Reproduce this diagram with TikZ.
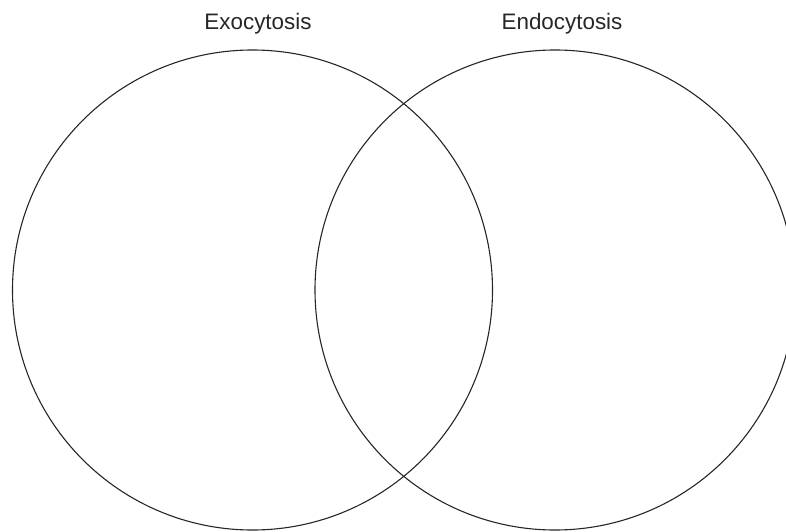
\documentclass[tikz,border=0pt]{standalone}
\usepackage{fontspec}
\setmainfont{Liberation Sans}

\tikzset{
  ring/.style={draw=black!85, line width=1.1pt},
  title/.style={anchor=base, inner sep=0.75pt, text=black!85, font=\fontsize{22.4}{27}\selectfont}
}

\begin{document}
\begin{tikzpicture}[x=1pt,y=1pt,yscale=-1]

\clip (0,0) rectangle (786,532);
\useasboundingbox (0,0) rectangle (786,532);

%Circle [id:exo]
\draw [ring] (252.5,290) circle (240);
%Circle [id:endo]
\draw [ring] (555,290) circle (240);

% Text Node
\node [title] (exo) at (258,30) {Exocytosis};
% Text Node
\node [title] (endo) at (562,30) {Endocytosis};

\end{tikzpicture}
\end{document}
